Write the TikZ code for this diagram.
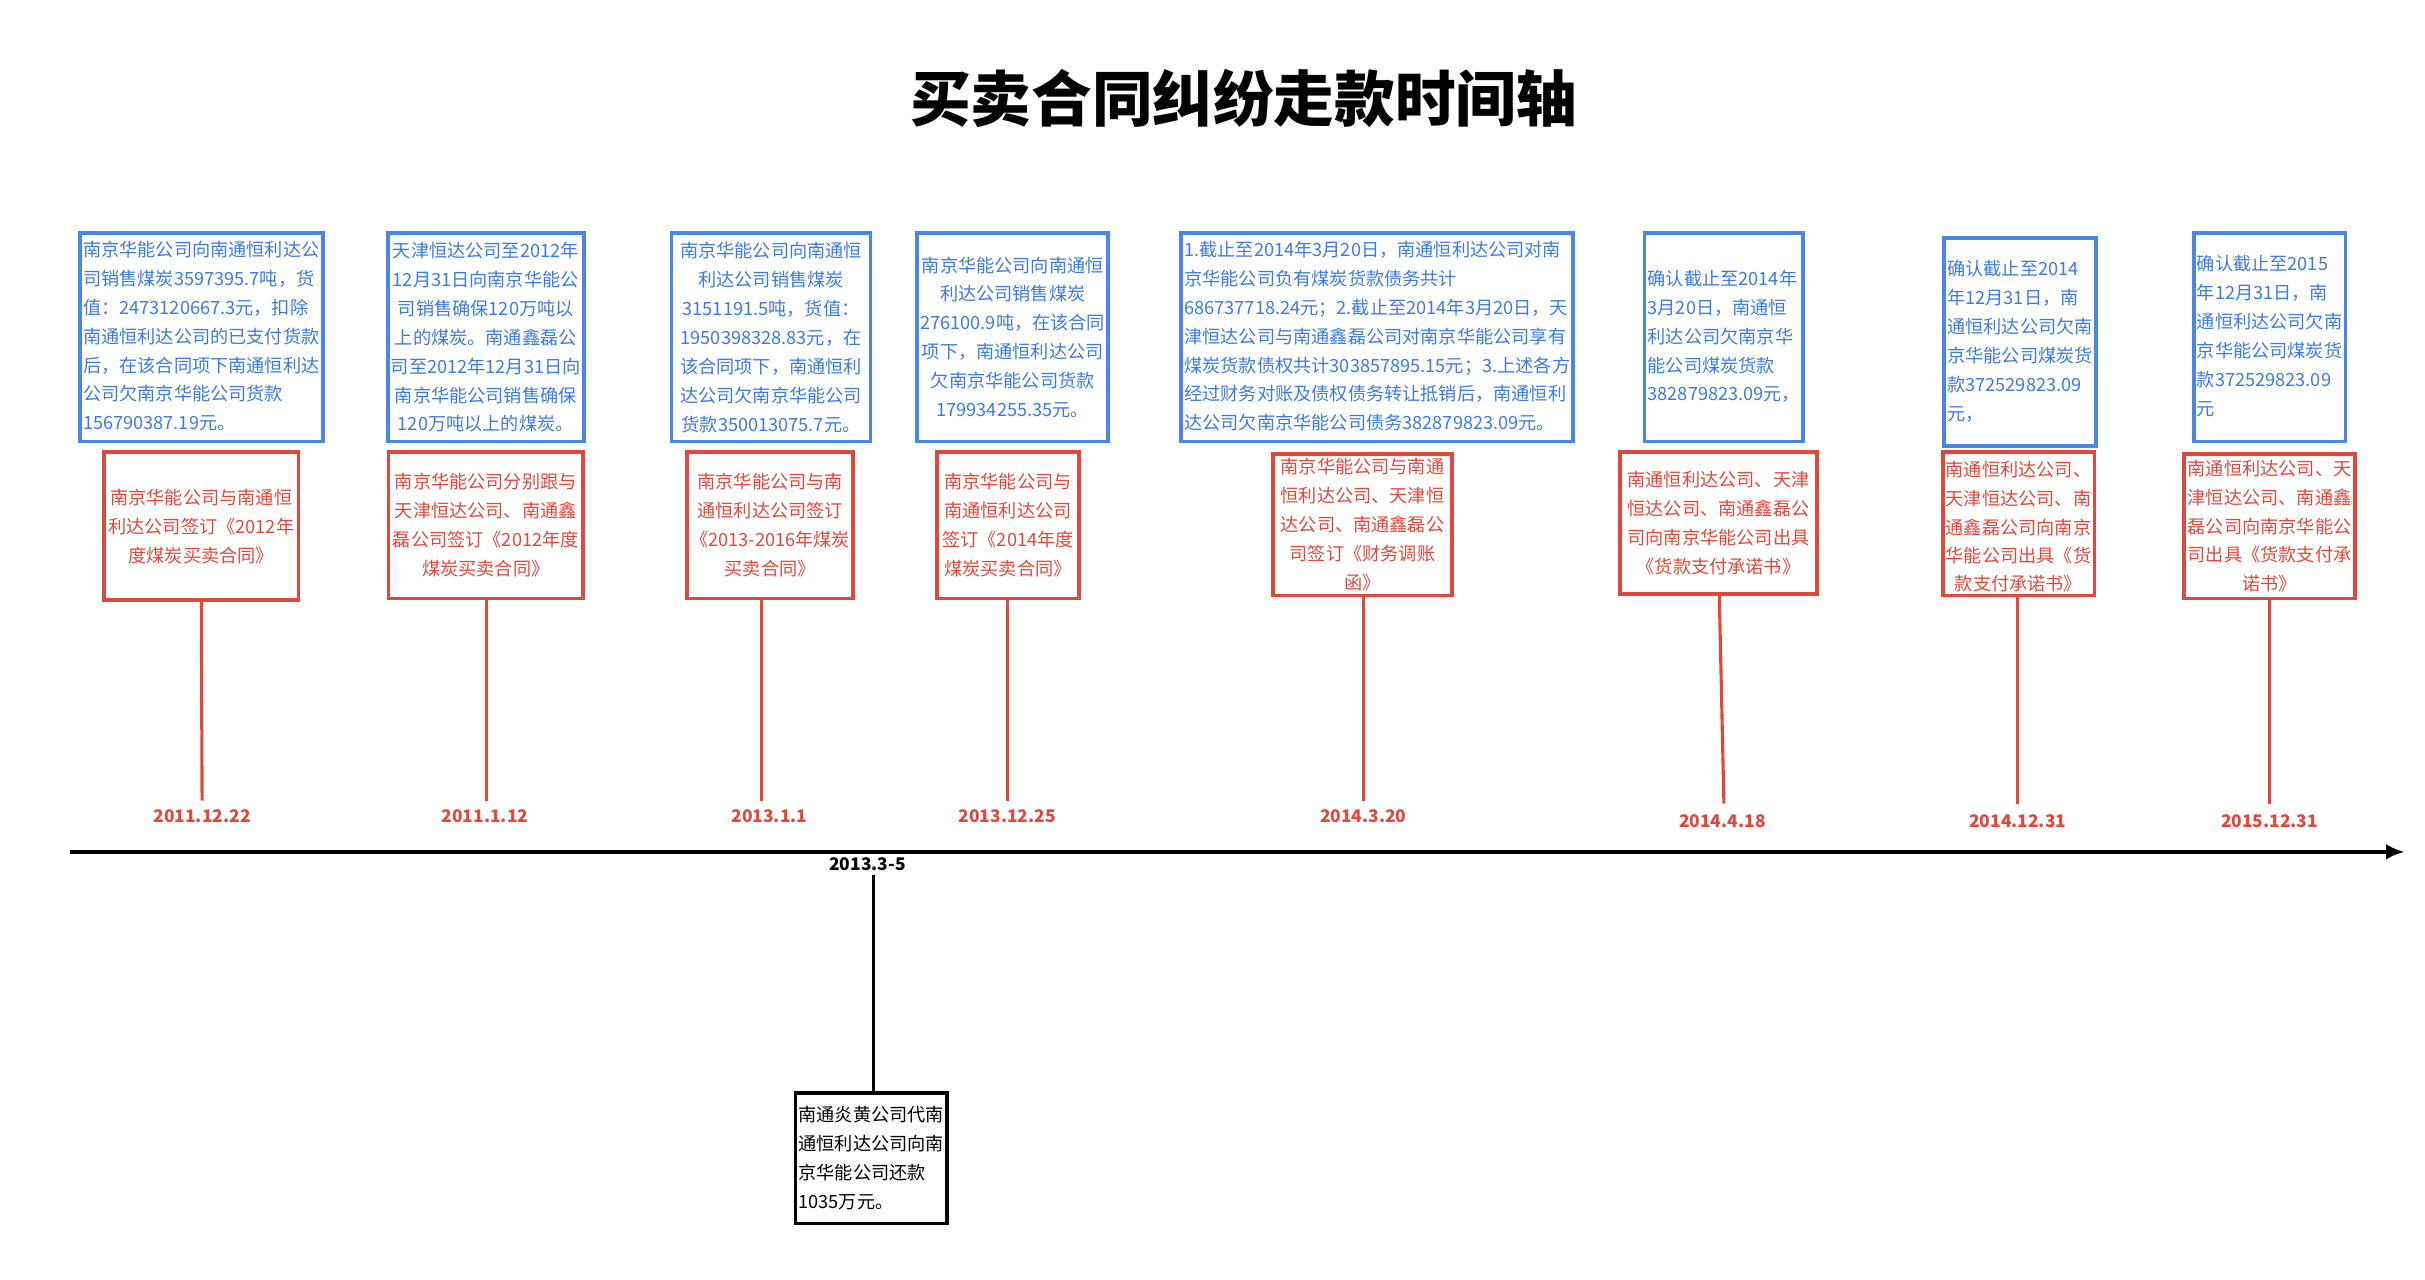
\documentclass[tikz,border=0pt]{standalone}
\usepackage{fontspec}
\setmainfont{Noto Sans CJK SC}
\usetikzlibrary{arrows.meta}
\begin{document}
\begin{tikzpicture}[x=0.5pt,y=0.5pt,
  bb/.style={draw=bblue,line width=1.2pt,text=tblue,inner sep=1pt,align=center,font=\fontsize{5.85}{9.3}\selectfont},
  rb/.style={draw=rred,line width=1.2pt,text=rred,inner sep=1pt,align=center,font=\fontsize{5.85}{9.3}\selectfont},
  dt/.style={text=rred,font=\bfseries\fontsize{5.6}{7}\selectfont,inner sep=1pt},
  con/.style={draw=rred,line width=1pt}]
\definecolor{bblue}{HTML}{4A86E8}
\definecolor{tblue}{HTML}{3D7BD9}
\definecolor{rred}{HTML}{E0483C}
\useasboundingbox (0,0) rectangle (1560,-823.4);
\node[font=\bfseries\fontsize{19.5}{22}\selectfont] (title) at (800,-63) {买卖合同纠纷走款时间轴};
\newcommand\bx[6]{\node[bb,minimum width={(#3-#2)*0.5pt},minimum height={(#5-#4)*0.5pt}] (#1) at ({(#2+#3)/2},{-(#4+#5)/2}) {#6};}
\newcommand\rx[6]{\node[rb,minimum width={(#3-#2)*0.5pt},minimum height={(#5-#4)*0.5pt}] (#1) at ({(#2+#3)/2},{-(#4+#5)/2}) {#6};}
\bx{b1}{52}{207}{150}{284}{\begin{tabular}{@{}l@{}}南京华能公司向南通恒利达公\\司销售煤炭3597395.7吨，货\\值：2473120667.3元，扣除\\南通恒利达公司的已支付货款\\后，在该合同项下南通恒利达\\公司欠南京华能公司货款\\156790387.19元。\end{tabular}}
\bx{b2}{250}{375}{150}{284}{天津恒达公司至2012年\\12月31日向南京华能公\\司销售确保120万吨以\\上的煤炭。南通鑫磊公\\司至2012年12月31日向\\南京华能公司销售确保\\120万吨以上的煤炭。}
\bx{b3}{432}{560}{150}{284}{南京华能公司向南通恒\\利达公司销售煤炭\\3151191.5吨，货值：\\1950398328.83元，在\\该合同项下，南通恒利\\达公司欠南京华能公司\\货款350013075.7元。}
\bx{b4}{590}{713}{150}{284}{南京华能公司向南通恒\\利达公司销售煤炭\\276100.9吨，在该合同\\项下，南通恒利达公司\\欠南京华能公司货款\\179934255.35元。}
\bx{b5}{761}{1011}{150}{284}{\begin{tabular}{@{}l@{}}1.截止至2014年3月20日，南通恒利达公司对南\\京华能公司负有煤炭货款债务共计\\686737718.24元；2.截止至2014年3月20日，天\\津恒达公司与南通鑫磊公司对南京华能公司享有\\煤炭货款债权共计303857895.15元；3.上述各方\\经过财务对账及债权债务转让抵销后，南通恒利\\达公司欠南京华能公司债务382879823.09元。\end{tabular}}
\bx{b6}{1058}{1160}{150}{284}{\begin{tabular}{@{}l@{}}确认截止至2014年\\3月20日，南通恒\\利达公司欠南京华\\能公司煤炭货款\\382879823.09元，\end{tabular}}
\bx{b7}{1252}{1347}{153}{287}{\begin{tabular}{@{}l@{}}确认截止至2014\\年12月31日，南\\通恒利达公司欠南\\京华能公司煤炭货\\款372529823.09\\元，\end{tabular}}
\bx{b8}{1412}{1508}{150}{284}{\begin{tabular}{@{}l@{}}确认截止至2015\\年12月31日，南\\通恒利达公司欠南\\京华能公司煤炭货\\款372529823.09\\元\end{tabular}}
\rx{r1}{67}{192}{291}{386}{南京华能公司与南通恒\\利达公司签订《2012年\\度煤炭买卖合同》}
\rx{r2}{250}{375}{291}{385}{南京华能公司分别跟与\\天津恒达公司、南通鑫\\磊公司签订《2012年度\\煤炭买卖合同》}
\rx{r3}{443}{548}{291}{385}{南京华能公司与南\\通恒利达公司签订\\《2013-2016年煤炭\\买卖合同》}
\rx{r4}{603}{694}{291}{385}{南京华能公司与\\南通恒利达公司\\签订《2014年度\\煤炭买卖合同》}
\rx{r5}{819}{934}{292}{383}{南京华能公司与南通\\恒利达公司、天津恒\\达公司、南通鑫磊公\\司签订《财务调账\\函》}
\rx{r6}{1042}{1169}{291}{382}{南通恒利达公司、天津\\恒达公司、南通鑫磊公\\司向南京华能公司出具\\《货款支付承诺书》}
\rx{r7}{1250}{1347}{291}{383}{\begin{tabular}{@{}l@{}}南通恒利达公司、\\天津恒达公司、南\\通鑫磊公司向南京\\华能公司出具《货\end{tabular}\\款支付承诺书》}
\rx{r8}{1405}{1515}{292}{385}{南通恒利达公司、天\\津恒达公司、南通鑫\\磊公司向南京华能公\\司出具《货款支付承\\诺书》}
\node[dt] (d1) at (130,-525) {2011.12.22};
\node[dt] (d2) at (312,-525) {2011.1.12};
\node[dt] (d3) at (495,-525) {2013.1.1};
\node[dt] (d4) at (648,-525) {2013.12.25};
\node[dt] (d5) at (877,-525) {2014.3.20};
\node[dt] (d6) at (1108,-528) {2014.4.18};
\node[dt] (d7) at (1298,-528) {2014.12.31};
\node[dt] (d8) at (1460,-528) {2015.12.31};
\coordinate (e1) at (130,-515); \coordinate (e2) at (313,-515);
\coordinate (e3) at (490,-515); \coordinate (e4) at (648,-515);
\coordinate (e5) at (877,-515); \coordinate (e6) at (1109,-517);
\coordinate (e7) at (1298,-517); \coordinate (e8) at (1460,-517);
\draw[con] (r1.south) -- (e1);
\draw[con] (r2.south -| e2) -- (e2);
\draw[con] (r3.south -| e3) -- (e3);
\draw[con] (r4.south -| e4) -- (e4);
\draw[con] (r5.south -| e5) -- (e5);
\coordinate (s6) at (1106,-382);
\draw[con] (s6) -- (e6);
\draw[con] (r7.south -| e7) -- (e7);
\draw[con] (r8.south -| e8) -- (e8);
\coordinate (ts) at (45,-548); \coordinate (te) at (1547,-548);
\draw[line width=1.2pt,-{Latex[length=6pt,width=5pt]}] (ts) -- (te);
\node[font=\bfseries\fontsize{5.6}{7}\selectfont,inner sep=1pt] (d9) at (558,-556) {2013.3-5};
\node[draw,line width=1.2pt,minimum width=47.5pt,minimum height=42pt,inner sep=1pt,align=left,font=\fontsize{5.85}{9.3}\selectfont] (k1) at (560.5,-745) {南通炎黄公司代南\\通恒利达公司向南\\京华能公司还款\\1035万元。};
\coordinate (k0) at (562,-563);
\draw[line width=1pt] (k0) -- (k0 |- k1.north);
\end{tikzpicture}
\end{document}
